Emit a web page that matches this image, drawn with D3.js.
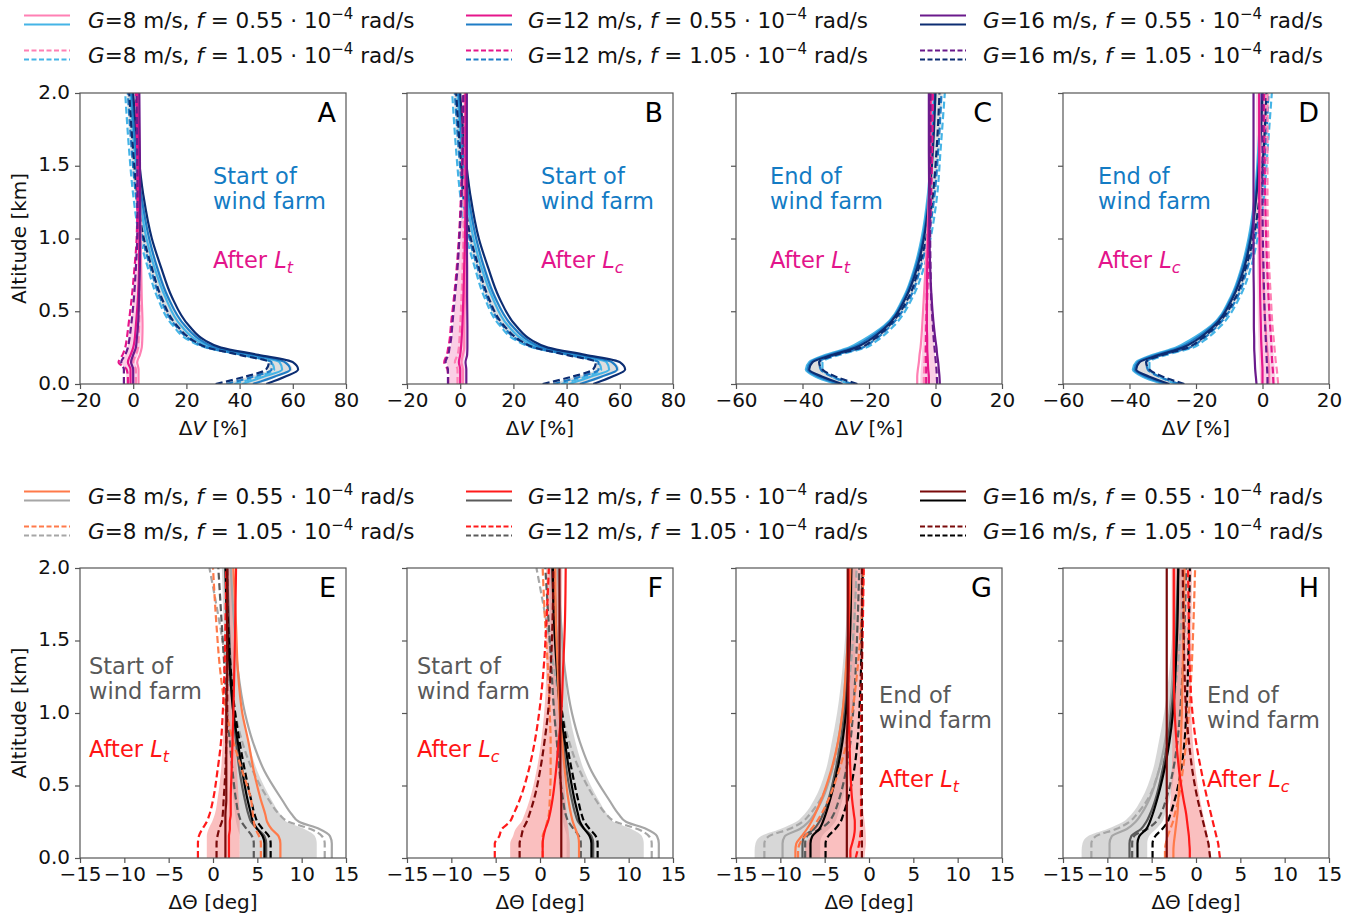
<!DOCTYPE html>
<html>
<head>
<meta charset="utf-8">
<script src="https://cdn.jsdelivr.net/npm/d3@7"></script>
<style>
body { margin: 0; background: #fff; }
svg { font-family: "DejaVu Sans", sans-serif; }
</style>
</head>
<body>
<svg id="chart" width="1360" height="917"></svg>
<script>
// altitude levels [km] shared by every profile
const altitude = [0, 0.05, 0.1, 0.15, 0.2, 0.25, 0.3, 0.4, 0.6, 0.8, 1.0, 1.3, 1.6, 2.0];

// series order in every group: G8 f0.55, G8 f1.05, G12 f0.55, G12 f1.05, G16 f0.55, G16 f1.05
const windSpeeds = [8, 8, 12, 12, 16, 16];
const coriolis = ['0.55', '1.05', '0.55', '1.05', '0.55', '1.05'];

// dV [%] start of wind farm (A, B)
const dvStart = [
  [41, 49, 56, 55, 44, 30, 24, 18, 12, 8, 5, 2.3, 0.5, -1],
  [38, 47, 53, 52, 41, 27.5, 21, 15, 9, 5.5, 2.5, 0, -1.5, -3],
  [45, 53, 59, 57, 45, 31, 25.5, 19.5, 13, 9, 6, 3, 1, -0.5],
  [35, 45, 52, 52, 41, 28, 22, 16, 10, 6.5, 3.5, 1, -0.5, -2],
  [50, 57, 62, 60, 47, 33, 27, 21, 14.5, 10.5, 7, 3.8, 1.8, 0],
  [31, 42, 50, 51, 40, 28, 22.5, 16.5, 10.5, 7, 4, 1.5, 0, -1.5]
];
// dV [%] after L_t, start (A)
const dvAfterLtStart = [
  [2, 2, 2, 1.5, 2.5, 3.2, 3.4, 3.5, 3.2, 3, 2.8, 2.5, 2.3, 2],
  [1, 1, 1, 0, 1, 1.8, 2, 2.2, 2.4, 2.5, 2.5, 2.2, 2, 1.5],
  [-1, -1, -1, -2, -1, 0, 0.5, 1, 1.8, 2.2, 2.3, 2.2, 2, 1.5],
  [-2, -2, -2.5, -5.5, -4, -3, -2.5, -1.8, -0.5, 0.5, 1.3, 1.6, 1.5, 1],
  [0, 0, 0, -0.8, 0, 1, 1.3, 1.8, 2.2, 2.5, 2.6, 2.6, 2.5, 2.3],
  [-3.5, -3.5, -3.5, -4.5, -3, -2, -1.5, -0.8, 0.3, 1, 1.5, 1.6, 1.5, 1.2]
];
// dV [%] after L_c, start (B)
const dvAfterLcStart = [
  [1, 1, 1, 0.5, 1, 1.5, 1.5, 1.5, 1.8, 2, 2, 2, 2, 2],
  [-1, -1, -1, -2, -1, -0.5, -0.3, 0, 0.5, 0.9, 1.2, 1.4, 1.5, 1.5],
  [0, 0, 0, -0.5, 0, 0.3, 0.5, 0.8, 1.2, 1.5, 1.8, 2, 2, 2],
  [-4.5, -4.5, -4.8, -6, -5, -4.5, -4, -3.5, -2.3, -1.3, -0.5, 0.3, 0.8, 1],
  [2.3, 2.3, 2.3, 2, 2.6, 2.7, 2.7, 2.7, 2.6, 2.6, 2.5, 2.5, 2.5, 2.5],
  [-4.6, -4.6, -4.6, -5.5, -4.5, -4, -3.5, -3, -2, -1, -0.3, 0.5, 1, 1.2]
];
// dV [%] end of wind farm (C, D)
const dvEnd = [
  [-30, -36, -39, -38, -33, -26, -22, -15.5, -9.5, -6.3, -4.2, -2.3, -1.3, -0.5],
  [-26, -31, -34, -34, -29, -21, -17.5, -12.5, -6.8, -3.5, -1.5, 0.5, 1.5, 2.8],
  [-29, -35, -38.5, -37.5, -32, -25, -21, -15, -9.2, -6, -3.8, -2, -1, -0.2],
  [-25, -31, -34.5, -35, -30, -22, -18.5, -13.5, -7.5, -4.5, -2.3, -0.3, 0.8, 1.8],
  [-28, -34, -38, -37, -31, -24, -20, -14.5, -8.8, -5.5, -3.5, -1.8, -0.8, 0],
  [-23.5, -30, -34, -35, -30, -22.5, -19, -14, -8, -5, -2.8, -0.8, 0.3, 1.2]
];
// dV [%] after L_t, end (C)
const dvAfterLtEnd = [
  [-5.5, -5.5, -5.3, -5, -4.8, -4.5, -4.3, -4, -3.5, -3, -2.5, -2, -1.6, -1.3],
  [-3.5, -3.5, -3.4, -3.3, -3.2, -3.1, -3, -2.9, -2.7, -2.4, -2, -1.5, -1.2, -1],
  [-2, -2, -2.2, -2.3, -2.4, -2.5, -2.5, -2.6, -2.6, -2.5, -2.2, -1.9, -1.6, -1.5],
  [-2.8, -2.8, -2.8, -2.8, -2.8, -2.8, -2.8, -2.7, -2.5, -2.2, -1.8, -1.3, -1, -0.8],
  [1.3, 1.2, 1, 0.8, 0.5, 0.3, 0, -0.5, -1.2, -1.6, -1.8, -1.9, -2, -2],
  [0.5, 0.4, 0.3, 0.1, -0.1, -0.3, -0.5, -0.8, -1.3, -1.5, -1.6, -1.6, -1.5, -1.5]
];
// dV [%] after L_c, end (D)
const dvAfterLcEnd = [
  [2, 2, 2, 1.8, 1.6, 1.4, 1.2, 0.9, 0.4, 0, -0.3, -0.6, -0.8, -1],
  [4.7, 4.5, 4.3, 4, 3.8, 3.6, 3.4, 3, 2.5, 2, 1.7, 1.5, 1.5, 1.5],
  [0, 0, 0, -0.1, -0.2, -0.3, -0.4, -0.5, -0.7, -0.8, -0.9, -1, -1, -1],
  [3.3, 3.2, 3.1, 2.9, 2.8, 2.7, 2.6, 2.3, 1.8, 1.4, 1.1, 0.8, 0.6, 0.5],
  [-1.8, -2, -2.2, -2.3, -2.4, -2.5, -2.5, -2.6, -2.6, -2.7, -2.7, -2.7, -2.7, -2.7],
  [1.5, 1.5, 1.4, 1.3, 1.2, 1.1, 1, 0.8, 0.5, 0.3, 0.1, 0, 0, 0]
];

// dTheta [deg] start of wind farm (E, F)
const dtStart = [
  [13.4, 13.4, 13.4, 13.2, 12, 9.7, 8.9, 7.8, 5.8, 4.5, 3.6, 2.8, 2.4, 2],
  [12.6, 12.6, 12.6, 12.3, 11, 8.5, 7.5, 6.3, 4.5, 3.3, 2.5, 1.6, 0.8, -0.4],
  [6, 6, 6, 5.8, 5, 4.3, 4, 3.6, 3, 2.6, 2.3, 2, 1.8, 1.6],
  [4.6, 4.6, 4.6, 4.4, 3.8, 3.2, 2.9, 2.6, 2.2, 1.9, 1.6, 1.3, 1, 0.6],
  [5.8, 5.8, 5.8, 5.6, 5, 4.5, 4.3, 3.9, 3.3, 2.8, 2.3, 1.9, 1.6, 1.4],
  [6.5, 6.5, 6.5, 6.3, 5.6, 5, 4.7, 4.3, 3.6, 3, 2.5, 2, 1.7, 1.5]
];
// shaded spread, start of wind farm
const dtStartLo = [3, 3, 3, 3, 2.8, 2.6, 2.5, 2.3, 2, 1.8, 1.6, 1.4, 1.2, 1];
const dtStartHi = [11.7, 11.7, 11.7, 11.5, 10.3, 8.3, 7.6, 6.6, 5, 4, 3.3, 2.8, 2.5, 2.2];
// dTheta [deg] after L_t, start (E)
const dtAfterLtStart = [
  [7.6, 7.6, 7.6, 7.4, 6.6, 6.1, 5.9, 5.4, 4.6, 4, 3.3, 2.8, 2.6, 2.3],
  [5.4, 5.4, 5.4, 5.2, 4.8, 4.6, 4.5, 4.3, 3.3, 2.3, 1.5, 0.8, 0.4, 0],
  [1.8, 1.8, 1.8, 1.8, 1.9, 1.9, 2, 2, 2.1, 2.2, 2.3, 2.4, 2.5, 2.6],
  [-1.7, -1.7, -1.7, -1.6, -1.2, -0.7, -0.4, 0, 0.5, 0.9, 1.1, 1.3, 1.4, 1.5],
  [1.4, 1.4, 1.4, 1.4, 1.4, 1.4, 1.4, 1.5, 1.5, 1.5, 1.5, 1.6, 1.6, 1.6],
  [0.4, 0.4, 0.4, 0.5, 0.7, 1, 1.1, 1.2, 1.4, 1.5, 1.6, 1.6, 1.6, 1.6]
];
const dtAfterLtStartLo = [-0.7, -0.7, -0.7, -0.7, -0.5, -0.1, 0.2, 0.5, 0.9, 1.1, 1.3, 1.4, 1.5, 1.5];
const dtAfterLtStartHi = [3, 3, 3, 3, 3, 3, 3, 2.9, 2.7, 2.5, 2.4, 2.3, 2.3, 2.3];
// dTheta [deg] after L_c, start (F)
const dtAfterLcStart = [
  [4.4, 4.4, 4.4, 4.3, 4, 3.7, 3.5, 3.2, 2.8, 2.5, 2.2, 2, 1.8, 1.7],
  [0.3, 0.3, 0.3, 0.3, 0.6, 0.8, 1, 1.1, 1.2, 1.2, 1.1, 0.9, 0.6, 0.3],
  [0.3, 0.3, 0.3, 0.4, 0.6, 0.9, 1.1, 1.4, 1.8, 2.1, 2.4, 2.6, 2.8, 2.9],
  [-5.1, -5.1, -5.1, -4.6, -4.3, -3.4, -3, -2.3, -1.3, -0.6, -0.1, 0.4, 0.7, 1],
  [2.4, 2.4, 2.4, 2.4, 2.4, 2.4, 2.4, 2.4, 2.3, 2.3, 2.3, 2.2, 2.2, 2.2],
  [-2.3, -2.3, -2.3, -2.1, -1.9, -1.5, -1.2, -0.7, 0, 0.5, 0.9, 1.2, 1.4, 1.5]
];
// dTheta [deg] end of wind farm (G, H)
const dtEnd = [
  [-9.75, -9.75, -9.75, -9.5, -7.8, -6.8, -6.2, -5.3, -4.2, -3.5, -3, -2.6, -2.3, -2],
  [-11.8, -11.8, -11.8, -11.3, -9, -7.5, -6.7, -5.5, -4.2, -3.3, -2.7, -2.1, -1.7, -1.4],
  [-7.5, -7.5, -7.5, -7.3, -6.2, -5.6, -5.2, -4.6, -3.8, -3.2, -2.8, -2.4, -2.2, -2],
  [-7.2, -7.2, -7.2, -7, -5.5, -4.5, -4, -3.4, -2.6, -2.1, -1.8, -1.5, -1.3, -1.1],
  [-6.6, -6.6, -6.6, -6.4, -5.6, -5.2, -4.9, -4.4, -3.6, -3, -2.6, -2.3, -2.1, -2],
  [-4.9, -4.9, -4.9, -4.6, -3.8, -3.2, -2.9, -2.4, -1.7, -1.3, -1.1, -0.9, -0.8, -0.7]
];
const dtEndLo = [-12.9, -12.9, -12.8, -12.2, -10, -8.2, -7.3, -6.2, -4.9, -4.2, -3.6, -3, -2.6, -2.3];
const dtEndHi = [-5.5, -5.5, -5.5, -5.3, -4.5, -3.8, -3.5, -3, -2.4, -2, -1.8, -1.6, -1.5, -1.4];
// dTheta [deg] after L_t, end (G)
const dtAfterLtEnd = [
  [-8.3, -8.3, -8.2, -7.6, -7, -6.5, -6.1, -5.4, -4.3, -3.5, -3, -2.6, -2.3, -2.1],
  [-8, -8, -7.8, -7.2, -6.5, -5.9, -5.4, -4.6, -3.4, -2.5, -1.9, -1.3, -0.9, -0.6],
  [-2.1, -2.1, -1.9, -1.7, -1.6, -1.6, -1.7, -1.9, -2.1, -2.2, -2.3, -2.3, -2.3, -2.3],
  [-1.5, -1.3, -1.1, -1, -0.9, -0.9, -0.9, -0.9, -0.9, -0.9, -0.9, -0.8, -0.7, -0.6],
  [-2.5, -2.5, -2.5, -2.5, -2.5, -2.5, -2.5, -2.5, -2.5, -2.5, -2.4, -2.4, -2.4, -2.4],
  [-0.8, -0.8, -0.8, -0.8, -0.8, -0.8, -0.8, -0.8, -0.8, -0.8, -0.8, -0.8, -0.8, -0.8]
];
// dTheta [deg] after L_c, end (H)
const dtAfterLcEnd = [
  [-2.55, -2.55, -2.5, -2.4, -2.3, -2.2, -2.1, -2, -1.8, -1.7, -1.6, -1.5, -1.4, -1.3],
  [-3.5, -3.5, -3.4, -3.2, -2.9, -2.6, -2.4, -2, -1.5, -1.1, -0.8, -0.5, -0.3, -0.1],
  [-0.7, -0.7, -0.75, -0.8, -0.9, -1, -1.1, -1.4, -1.9, -2.2, -2.4, -2.5, -2.5, -2.5],
  [2.7, 2.6, 2.5, 2.3, 2.1, 1.9, 1.7, 1.3, 0.6, 0, -0.4, -0.7, -0.8, -0.9],
  [-3.3, -3.3, -3.3, -3.3, -3.3, -3.3, -3.3, -3.3, -3.3, -3.3, -3.3, -3.3, -3.3, -3.3],
  [1.6, 1.5, 1.4, 1.2, 1, 0.8, 0.6, 0.2, -0.4, -0.8, -1.1, -1.3, -1.4, -1.5]
];

const altTicks = [0, 0.5, 1.0, 1.5, 2.0];
const dvTicksStart = [-20, 0, 20, 40, 60, 80];
const dvTicksEnd = [-60, -40, -20, 0, 20];
const dtTicks = [-15, -10, -5, 0, 5, 10, 15];

// colours per wind speed (8, 12, 16)
const colBlue = ['#45b4e6', '#1f7dc6', '#0c2d72'];
const colPink = ['#ff80b4', '#e6168b', '#6b1a8c'];
const colGray = ['#a6a6a6', '#5a5a5a', '#000000'];
const colRed = ['#ff7a4a', '#ff1a1a', '#7a0a0a'];

const svg = d3.select('#chart');
const minus = d => (d < 0 ? '\u2212' + Math.abs(d) : String(d));

const panels = [
  {id: 'A', left: 80, top: 93, h: 291, dom: [-20, 80], ticks: dvTicksStart, g1: dvStart, g2: dvAfterLtStart, c1: colBlue, c2: colPink, f1: '#c8c8c8', f2: '#f7a8cf', t1: ['Start of', 'wind farm'], tc1: '#137bc4', tc2: '#e3148b', sub: 't', tx: 133, ty: 91, ay: 175, ylab: true, xlab: 'V'},
  {id: 'B', left: 407, top: 93, h: 291, dom: [-20, 80], ticks: dvTicksStart, g1: dvStart, g2: dvAfterLcStart, c1: colBlue, c2: colPink, f1: '#c8c8c8', f2: '#f7a8cf', t1: ['Start of', 'wind farm'], tc1: '#137bc4', tc2: '#e3148b', sub: 'c', tx: 134, ty: 91, ay: 175, ylab: false, xlab: 'V'},
  {id: 'C', left: 736, top: 93, h: 291, dom: [-60, 20], ticks: dvTicksEnd, g1: dvEnd, g2: dvAfterLtEnd, c1: colBlue, c2: colPink, f1: '#c8c8c8', f2: '#f7a8cf', t1: ['End of', 'wind farm'], tc1: '#137bc4', tc2: '#e3148b', sub: 't', tx: 34, ty: 91, ay: 175, ylab: false, xlab: 'V'},
  {id: 'D', left: 1063, top: 93, h: 291, dom: [-60, 20], ticks: dvTicksEnd, g1: dvEnd, g2: dvAfterLcEnd, c1: colBlue, c2: colPink, f1: '#c8c8c8', f2: '#f7a8cf', t1: ['End of', 'wind farm'], tc1: '#137bc4', tc2: '#e3148b', sub: 'c', tx: 35, ty: 91, ay: 175, ylab: false, xlab: 'V'},
  {id: 'E', left: 80, top: 568, h: 290, dom: [-15, 15], ticks: dtTicks, g1: dtStart, g2: dtAfterLtStart, b1: [dtStartLo, dtStartHi], b2: [dtAfterLtStartLo, dtAfterLtStartHi], c1: colGray, c2: colRed, f1: '#bdbdbd', f2: '#f58a8a', t1: ['Start of', 'wind farm'], tc1: '#595959', tc2: '#ff1414', sub: 't', tx: 9, ty: 106, ay: 189, ylab: true, xlab: 'T'},
  {id: 'F', left: 407, top: 568, h: 290, dom: [-15, 15], ticks: dtTicks, g1: dtStart, g2: dtAfterLcStart, b1: [dtStartLo, dtStartHi], c1: colGray, c2: colRed, f1: '#bdbdbd', f2: '#f58a8a', t1: ['Start of', 'wind farm'], tc1: '#595959', tc2: '#ff1414', sub: 'c', tx: 10, ty: 106, ay: 189, ylab: false, xlab: 'T'},
  {id: 'G', left: 736, top: 568, h: 290, dom: [-15, 15], ticks: dtTicks, g1: dtEnd, g2: dtAfterLtEnd, b1: [dtEndLo, dtEndHi], c1: colGray, c2: colRed, f1: '#bdbdbd', f2: '#f58a8a', t1: ['End of', 'wind farm'], tc1: '#595959', tc2: '#ff1414', sub: 't', tx: 143, ty: 135, ay: 219, ylab: false, xlab: 'T'},
  {id: 'H', left: 1063, top: 568, h: 290, dom: [-15, 15], ticks: dtTicks, g1: dtEnd, g2: dtAfterLcEnd, b1: [dtEndLo, dtEndHi], c1: colGray, c2: colRed, f1: '#bdbdbd', f2: '#f58a8a', t1: ['End of', 'wind farm'], tc1: '#595959', tc2: '#ff1414', sub: 'c', tx: 144, ty: 135, ay: 219, ylab: false, xlab: 'T'}
];
const W = 266;

// spread band: explicit lo/hi if given, otherwise mean +- std of the six runs
function band(group, given) {
  return altitude.map((z, i) => {
    if (given) return {z: z, lo: given[0][i], hi: given[1][i]};
    const vals = group.map(p => p[i]);
    const m = d3.mean(vals), s = d3.deviation(vals);
    return {z: z, lo: m - s, hi: m + s};
  });
}

panels.forEach(p => {
  const x = d3.scaleLinear().domain(p.dom).range([p.left, p.left + W]);
  const y = d3.scaleLinear().domain([0, 2]).range([p.top + p.h, p.top]);
  const g = svg.append('g');

  svg.append('clipPath').attr('id', 'clip' + p.id)
    .append('rect').attr('x', p.left).attr('y', p.top).attr('width', W).attr('height', p.h);
  const plot = g.append('g').attr('clip-path', 'url(#clip' + p.id + ')');

  const area = d3.area().y(d => y(d.z)).x0(d => x(d.lo)).x1(d => x(d.hi)).curve(d3.curveMonotoneY);
  plot.append('path').attr('d', area(band(p.g1, p.b1))).attr('fill', p.f1).attr('opacity', 0.6);
  plot.append('path').attr('d', area(band(p.g2, p.b2))).attr('fill', p.f2).attr('opacity', 0.55);

  const line = d3.line().x(d => x(d)).y((d, i) => y(altitude[i])).curve(d3.curveMonotoneY);
  [[p.g1, p.c1], [p.g2, p.c2]].forEach(([grp, cols]) => {
    grp.forEach((prof, k) => {
      plot.append('path').attr('d', line(prof))
        .attr('fill', 'none')
        .attr('stroke', cols[Math.floor(k / 2)])
        .attr('stroke-width', 2.2)
        .attr('stroke-dasharray', k % 2 ? '7,3.5' : null);
    });
  });

  // frame
  g.append('rect').attr('x', p.left).attr('y', p.top).attr('width', W).attr('height', p.h)
    .attr('fill', 'none').attr('stroke', '#555').attr('stroke-width', 1.2);

  const xa = g.append('g').attr('transform', `translate(0,${p.top + p.h})`)
    .call(d3.axisBottom(x).tickValues(p.ticks).tickSize(5).tickPadding(4).tickFormat(minus));
  const ya = g.append('g').attr('transform', `translate(${p.left},0)`)
    .call(d3.axisLeft(y).tickValues(altTicks).tickSize(5).tickPadding(5)
      .tickFormat(p.ylab ? d3.format('.1f') : ''));
  [xa, ya].forEach(a => {
    a.select('.domain').remove();
    a.selectAll('line').attr('stroke', '#555').attr('stroke-width', 1.2);
    a.selectAll('text').attr('font-size', 20).attr('fill', '#111').attr('font-family', 'DejaVu Sans');
  });
  ya.selectAll('text').attr('dy', '0.25em');

  // x label
  const xl = g.append('text').attr('x', p.left + W / 2).attr('y', p.top + p.h + 51)
    .attr('text-anchor', 'middle').attr('font-size', 20).attr('fill', '#111');
  xl.append('tspan').text(p.xlab === 'V' ? '\u0394' : '\u0394\u0398');
  if (p.xlab === 'V') xl.append('tspan').attr('font-style', 'italic').text('V');
  xl.append('tspan').text(p.xlab === 'V' ? ' [%]' : ' [deg]');

  if (p.ylab) {
    g.append('text').attr('transform', `translate(26,${p.top + p.h / 2}) rotate(-90)`)
      .attr('text-anchor', 'middle').attr('font-size', 20).attr('fill', '#111').text('Altitude [km]');
  }

  // panel letter
  g.append('text').attr('x', p.left + W - 10).attr('y', p.top + 29).attr('text-anchor', 'end')
    .attr('font-size', 27).attr('fill', '#000').text(p.id);

  // annotations
  p.t1.forEach((t, i) => {
    g.append('text').attr('x', p.left + p.tx).attr('y', p.top + p.ty + i * 25)
      .attr('font-size', 22.5).attr('fill', p.tc1).text(t);
  });
  const at = g.append('text').attr('x', p.left + p.tx).attr('y', p.top + p.ay)
    .attr('font-size', 22.5).attr('fill', p.tc2);
  at.append('tspan').text('After ');
  at.append('tspan').attr('font-style', 'italic').text('L');
  at.append('tspan').attr('font-style', 'italic').attr('font-size', 16).attr('dy', 5).text(p.sub);
});

// legends
function legend(y0, cTop, cBot) {
  const hx = [24, 466, 920], tx = [88, 528, 983];
  [0, 1, 2].forEach(j => {
    [0, 1].forEach(r => {
      const k = j * 2 + r;
      const yc = y0 + r * 35;
      [[cTop[j], -4.5], [cBot[j], 4.5]].forEach(([c, dy]) => {
        svg.append('line').attr('x1', hx[j]).attr('x2', hx[j] + 46)
          .attr('y1', yc + dy).attr('y2', yc + dy)
          .attr('stroke', c).attr('stroke-width', 2)
          .attr('stroke-dasharray', r ? '5,2.5' : null);
      });
      const t = svg.append('text').attr('x', tx[j]).attr('y', yc + 8)
        .attr('font-size', 21.5).attr('fill', '#111');
      t.append('tspan').attr('font-style', 'italic').text('G');
      t.append('tspan').text('=' + windSpeeds[k] + ' m/s, ');
      t.append('tspan').attr('font-style', 'italic').text('f');
      t.append('tspan').text(' = ' + coriolis[k] + ' \u00b7 10');
      t.append('tspan').attr('dy', -9).attr('font-size', 15).text('\u22124');
      t.append('tspan').attr('dy', 9).text(' rad/s');
    });
  });
}
legend(20, colPink, colBlue);
legend(496, colRed, colGray);
</script>
</body>
</html>
